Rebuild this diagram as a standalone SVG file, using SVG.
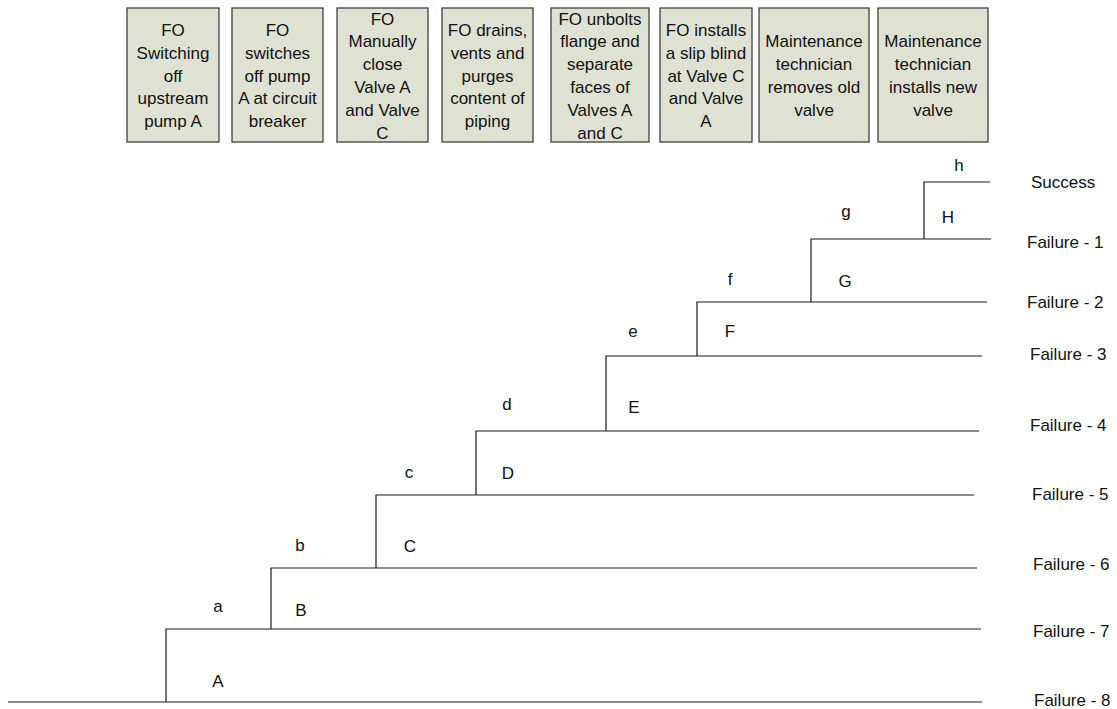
<svg xmlns="http://www.w3.org/2000/svg" width="1117" height="709" viewBox="0 0 1117 709">
<style>
.box{fill:#dfe2d3;stroke:#404040;stroke-width:1.3}
.bt{font-family:"Liberation Sans",Arial,sans-serif;font-size:17px;fill:#111;text-anchor:middle}
.lbl{font-family:"Liberation Sans",Arial,sans-serif;font-size:17px;fill:#111;text-anchor:middle}
.out{font-family:"Liberation Sans",Arial,sans-serif;font-size:17px;fill:#111;text-anchor:start}
.ln{stroke:#1a1a1a;stroke-width:1.2;fill:none}
</style>
<rect width="1117" height="709" fill="#ffffff"/>
<g id="step1"><rect class="box" x="127" y="8" width="92" height="134"/>
<text class="bt"><tspan x="173" y="35.9">FO</tspan><tspan x="173" y="58.7">Switching</tspan><tspan x="173" y="81.5">off</tspan><tspan x="173" y="104.3">upstream</tspan><tspan x="173" y="127.1">pump A</tspan></text></g>
<g id="step2"><rect class="box" x="232" y="8" width="91" height="134"/>
<text class="bt"><tspan x="277.5" y="35.9">FO</tspan><tspan x="277.5" y="58.7">switches</tspan><tspan x="277.5" y="81.5">off pump</tspan><tspan x="277.5" y="104.3">A at circuit</tspan><tspan x="277.5" y="127.1">breaker</tspan></text></g>
<g id="step3"><rect class="box" x="337" y="8" width="91" height="134"/>
<text class="bt"><tspan x="382.5" y="24.5">FO</tspan><tspan x="382.5" y="47.3">Manually</tspan><tspan x="382.5" y="70.1">close</tspan><tspan x="382.5" y="92.9">Valve A</tspan><tspan x="382.5" y="115.7">and Valve</tspan><tspan x="382.5" y="138.5">C</tspan></text></g>
<g id="step4"><rect class="box" x="442" y="8" width="91" height="134"/>
<text class="bt"><tspan x="487.5" y="35.9">FO drains,</tspan><tspan x="487.5" y="58.7">vents and</tspan><tspan x="487.5" y="81.5">purges</tspan><tspan x="487.5" y="104.3">content of</tspan><tspan x="487.5" y="127.1">piping</tspan></text></g>
<g id="step5"><rect class="box" x="551" y="8" width="98" height="134"/>
<text class="bt"><tspan x="600" y="24.5">FO unbolts</tspan><tspan x="600" y="47.3">flange and</tspan><tspan x="600" y="70.1">separate</tspan><tspan x="600" y="92.9">faces of</tspan><tspan x="600" y="115.7">Valves A</tspan><tspan x="600" y="138.5">and C</tspan></text></g>
<g id="step6"><rect class="box" x="660" y="8" width="92" height="134"/>
<text class="bt"><tspan x="706" y="35.9">FO installs</tspan><tspan x="706" y="58.7">a slip blind</tspan><tspan x="706" y="81.5">at Valve C</tspan><tspan x="706" y="104.3">and Valve</tspan><tspan x="706" y="127.1">A</tspan></text></g>
<g id="step7"><rect class="box" x="759" y="8" width="110" height="134"/>
<text class="bt"><tspan x="814" y="47.3">Maintenance</tspan><tspan x="814" y="70.1">technician</tspan><tspan x="814" y="92.9">removes old</tspan><tspan x="814" y="115.7">valve</tspan></text></g>
<g id="step8"><rect class="box" x="878" y="8" width="110" height="134"/>
<text class="bt"><tspan x="933" y="47.3">Maintenance</tspan><tspan x="933" y="70.1">technician</tspan><tspan x="933" y="92.9">installs new</tspan><tspan x="933" y="115.7">valve</tspan></text></g>
<g id="connectors" class="ln">
<path class="ln" d="M8 702H982"/>
<path class="ln" d="M166 702V629H981"/>
<path class="ln" d="M271 629V568H977"/>
<path class="ln" d="M376 568V495H974"/>
<path class="ln" d="M476 495V431H979"/>
<path class="ln" d="M606 431V356H982"/>
<path class="ln" d="M697 356V302H987"/>
<path class="ln" d="M811 302V239H991"/>
<path class="ln" d="M924 239V182H990"/>
</g>
<g id="branch-labels">
<text class="lbl" x="218" y="612">a</text><text class="lbl" x="218" y="687">A</text>
<text class="lbl" x="300" y="551">b</text><text class="lbl" x="301" y="616">B</text>
<text class="lbl" x="409" y="477.5">c</text><text class="lbl" x="410" y="552">C</text>
<text class="lbl" x="507" y="410">d</text><text class="lbl" x="508" y="479">D</text>
<text class="lbl" x="633" y="336.5">e</text><text class="lbl" x="634" y="413">E</text>
<text class="lbl" x="730" y="285">f</text><text class="lbl" x="730" y="337">F</text>
<text class="lbl" x="846" y="216.5">g</text><text class="lbl" x="845" y="287">G</text>
<text class="lbl" x="959" y="171">h</text><text class="lbl" x="948" y="223">H</text>
</g>
<g id="outcomes">
<text id="success" class="out" x="1031" y="188">Success</text>
<text id="failure-1" class="out" x="1027" y="248">Failure - 1</text>
<text id="failure-2" class="out" x="1027" y="308">Failure - 2</text>
<text id="failure-3" class="out" x="1030" y="360">Failure - 3</text>
<text id="failure-4" class="out" x="1030" y="431">Failure - 4</text>
<text id="failure-5" class="out" x="1032" y="500">Failure - 5</text>
<text id="failure-6" class="out" x="1033" y="570">Failure - 6</text>
<text id="failure-7" class="out" x="1033" y="637">Failure - 7</text>
<text id="failure-8" class="out" x="1034" y="706">Failure - 8</text>
</g>
</svg>
